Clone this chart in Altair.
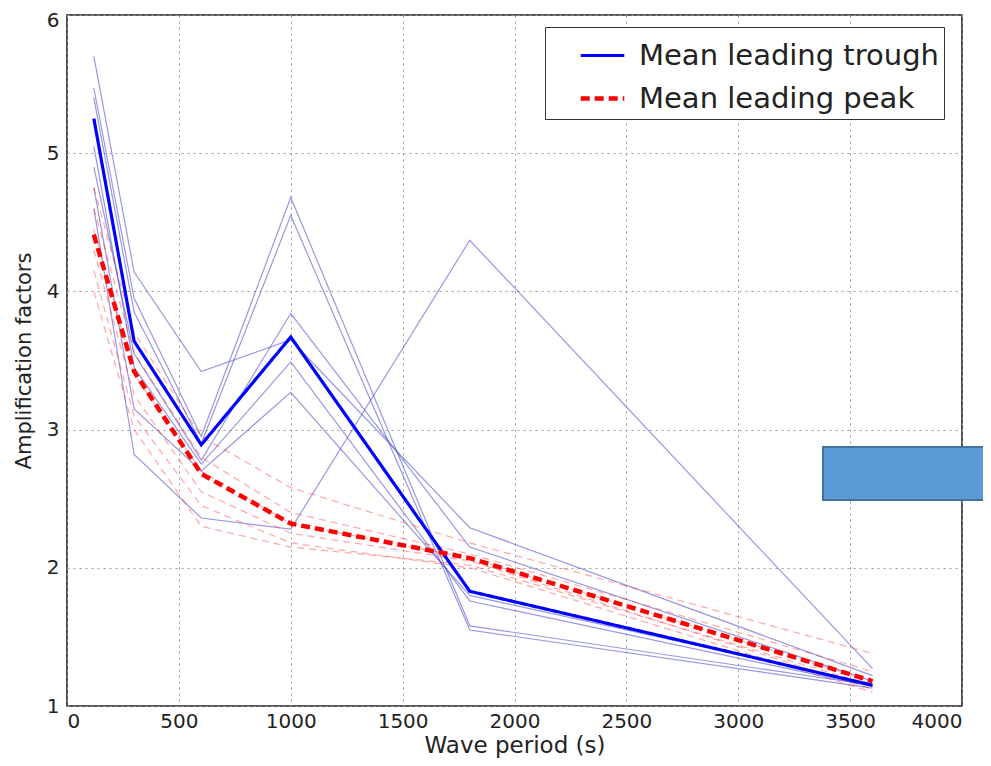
import altair as alt
import pandas as pd

# ---- data ----
periods = [120, 300, 600, 1000, 1800, 3600]

mean_trough = [5.25, 3.64, 2.89, 3.67, 1.83, 1.15]
mean_peak = [4.41, 3.42, 2.68, 2.32, 2.07, 1.18]

trough_runs = [
    [5.70, 4.14, 3.42, 3.65, 2.29, 1.22],
    [5.47, 3.95, 2.95, 4.68, 1.58, 1.15],
    [5.40, 3.85, 2.90, 4.55, 1.55, 1.13],
    [4.90, 3.55, 2.78, 3.84, 2.15, 1.18],
    [5.05, 3.45, 2.75, 3.49, 1.76, 1.14],
    [4.75, 3.15, 2.70, 3.27, 1.80, 1.16],
    [4.60, 2.82, 2.36, 2.28, 4.37, 1.27],
]

peak_runs = [
    [4.75, 3.70, 2.95, 2.58, 2.18, 1.38],
    [4.60, 3.55, 2.80, 2.40, 2.10, 1.25],
    [4.45, 3.40, 2.70, 2.32, 2.07, 1.18],
    [4.30, 3.25, 2.55, 2.25, 2.05, 1.12],
    [4.15, 3.10, 2.45, 2.18, 2.00, 1.10],
    [4.00, 3.00, 2.30, 2.15, 2.02, 1.15],
]

series_names = ["Mean leading trough", "Mean leading peak"]
x_title = "Wave period (s)"
y_title = "Amplification factors"

# ---- tables ----
def runs_frame(runs, prefix):
    rows = []
    for i, run in enumerate(runs):
        for p, v in zip(periods, run):
            rows.append({"run": f"{prefix}{i}", "period": p, "amp": v})
    return pd.DataFrame(rows)

df_trough = runs_frame(trough_runs, "t")
df_peak = runs_frame(peak_runs, "p")
df_mean = pd.DataFrame(
    [{"series": series_names[0], "period": p, "amp": v} for p, v in zip(periods, mean_trough)]
    + [{"series": series_names[1], "period": p, "amp": v} for p, v in zip(periods, mean_peak)]
)

FONT = "DejaVu Sans"

x_enc = alt.X(
    "period:Q",
    scale=alt.Scale(domain=[0, 4000], nice=False, zero=False),
    axis=alt.Axis(values=[0, 500, 1000, 1500, 2000, 2500, 3000, 3500, 4000],
                  title=x_title, format="d"),
)
y_enc = alt.Y(
    "amp:Q",
    scale=alt.Scale(domain=[1, 6], nice=False, zero=False),
    axis=alt.Axis(values=[1, 2, 3, 4, 5, 6], title=y_title, format="d",
                  labelOffset=alt.ExprRef("datum.value == 6 ? 5 : 0")),
)

thin_trough = alt.Chart(df_trough).mark_line(
    color="#4444cc", strokeWidth=1.2, opacity=0.55
).encode(x=x_enc, y=y_enc, detail="run:N")

thin_peak = alt.Chart(df_peak).mark_line(
    color="#ff2222", strokeWidth=1.2, opacity=0.4, strokeDash=[7, 5]
).encode(x=x_enc, y=y_enc, detail="run:N")

legend_kw = dict(
    title=None, orient="none", legendX=478, legendY=12,
    symbolType="stroke", symbolSize=1900, symbolStrokeWidth=3.5,
    labelFontSize=29, labelFont=FONT, labelColor="#222222", labelLimit=600,
    padding=5, rowPadding=3, labelOffset=12, symbolOffset=28,
    strokeColor="#333333", fillColor="white",
)

means = alt.Chart(df_mean).mark_line().encode(
    x=x_enc,
    y=y_enc,
    color=alt.Color(
        "series:N",
        scale=alt.Scale(domain=series_names, range=["#0000ff", "#ff0000"]),
        sort=series_names,
        legend=alt.Legend(**legend_kw),
    ),
    strokeDash=alt.StrokeDash(
        "series:N",
        scale=alt.Scale(domain=series_names, range=[[1, 0], [9, 5]]),
        sort=series_names,
        legend=alt.Legend(**legend_kw),
    ),
    strokeWidth=alt.StrokeWidth(
        "series:N",
        scale=alt.Scale(domain=series_names, range=[3.2, 4.5]),
        legend=None,
    ),
    order=alt.Order("period:Q"),
)

# overlay shape present in the reference picture (a filled box at the right edge)
box = alt.Chart(pd.DataFrame({"k": [0]})).mark_rect(
    fill="#5b9bd5", stroke="#41719c", strokeWidth=2
).encode(
    x=alt.value(756), x2=alt.value(926),
    y=alt.value(432), y2=alt.value(485),
)

chart = alt.layer(thin_trough, thin_peak, means, box).properties(
    width=895,
    height=691,
    autosize=alt.AutoSizeParams(type="none"),
    padding={"left": 59, "top": 7, "right": 21, "bottom": 52},
).configure_view(
    stroke="#222222", strokeWidth=1.6
).configure_axis(
    grid=True,
    gridColor="#9a9a9a",
    gridDash=[2, 4],
    gridWidth=1,
    domain=False,
    ticks=False,
    labelFont=FONT,
    labelFontSize=20,
    labelColor="#222222",
    titleFont=FONT,
    titleFontWeight="normal",
    titleColor="#222222",
).configure_axisX(
    labelPadding=5,
    titleFontSize=23,
    titlePadding=3,
).configure_axisY(
    labelPadding=8,
    titleFontSize=21,
    titlePadding=12,
)

chart.save("out.html", embed_options={"renderer": "svg", "actions": False})
